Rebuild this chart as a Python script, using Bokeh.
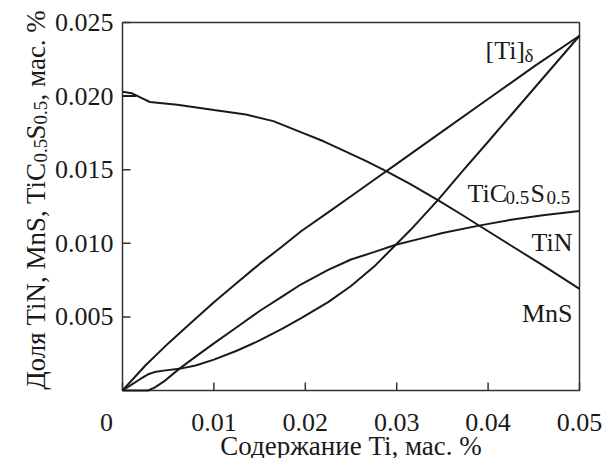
import math
from bokeh.plotting import figure
from bokeh.models import Range1d, Label
from bokeh.embed import file_html
from bokeh.resources import INLINE

# ---- data ----
ti_x = [0, 0.0025, 0.005, 0.0075, 0.01, 0.0125, 0.015, 0.0175, 0.0195, 0.0225,
        0.025, 0.0275, 0.03, 0.035, 0.04, 0.045, 0.05]
ti_y = [0, 0.0017, 0.0032, 0.0046, 0.0060, 0.0073, 0.0086, 0.0098, 0.0108, 0.0121,
        0.0132, 0.0143, 0.0154, 0.0176, 0.0198, 0.0220, 0.0241]

mns_x = [0, 0.001, 0.002, 0.003, 0.006, 0.01, 0.0135, 0.0165, 0.0195, 0.022,
         0.0242, 0.0265, 0.0289, 0.0315, 0.0346, 0.037, 0.039, 0.0425, 0.046, 0.05]
mns_y = [0.0203, 0.0202, 0.0199, 0.0196, 0.01942, 0.01906, 0.01875, 0.0183, 0.01755, 0.01693,
         0.0163, 0.01563, 0.01488, 0.01402, 0.0129, 0.01199, 0.01121, 0.00985, 0.0085, 0.0069]
mns2_x = [0, 0.0015]
mns2_y = [0.0200, 0.0200]

tin_x = [0, 0.0028, 0.0035, 0.0045, 0.0062, 0.008, 0.01, 0.0125, 0.015, 0.0175, 0.0195,
         0.0225, 0.025, 0.0275, 0.0299, 0.0325, 0.035, 0.039, 0.0425, 0.046, 0.05]
tin_y = [0, 0, 0.0002, 0.0006, 0.00147, 0.0023, 0.0032, 0.0043, 0.0054, 0.0064, 0.0072,
         0.0082, 0.0089, 0.0094, 0.0099, 0.0103, 0.0107, 0.0112, 0.0116, 0.0119, 0.0122]

tic_x = [0, 0.001, 0.002, 0.0028, 0.0035, 0.0045, 0.0062, 0.008, 0.01, 0.0125, 0.015,
         0.0175, 0.0195, 0.0225, 0.025, 0.0275, 0.0299, 0.0315, 0.0346, 0.0372, 0.04,
         0.0425, 0.045, 0.0475, 0.05]
tic_y = [0, 0.0004, 0.0008, 0.0011, 0.00125, 0.00135, 0.00147, 0.0017, 0.0021, 0.0027, 0.0034,
         0.0042, 0.0049, 0.0060, 0.0071, 0.0084, 0.0099, 0.0109, 0.0130, 0.0149, 0.0169,
         0.0187, 0.0205, 0.0223, 0.0241]

x_ticks = [0, 0.01, 0.02, 0.03, 0.04, 0.05]
x_tick_labels = ["0", "0.01", "0.02", "0.03", "0.04", "0.05"]
y_ticks = [0.005, 0.010, 0.015, 0.020, 0.025]
y_tick_labels = ["0.005", "0.010", "0.015", "0.020", "0.025"]
x_title = "Содержание Ti, мас. %"

# ---- layout constants ----
W, H = 603, 458           # canvas
L, T, FW, FH = 122, 22, 457, 368   # plotting box inside the canvas
XMIN, XMAX = x_ticks[0], x_ticks[-1]
YMIN, YMAX = 0.0, y_ticks[-1]
kx = (XMAX - XMIN) / FW
ky = (YMAX - YMIN) / FH

FONT = "Liberation Serif"
INK = "#1a1a1a"
FRAME = "#333333"

p = figure(frame_width=W, frame_height=H, min_border=0, title=None,
           x_axis_location=None, y_axis_location=None,
           x_range=Range1d(XMIN - L * kx, XMAX + (W - L - FW) * kx),
           y_range=Range1d(YMIN - (H - T - FH) * ky, YMAX + T * ky),
           output_backend="svg", toolbar_location=None)
p.xgrid.visible = False
p.ygrid.visible = False
p.outline_line_color = None
p.background_fill_color = "white"
p.border_fill_color = "white"

# plot box and inward ticks
p.quad(left=[XMIN], right=[XMAX], bottom=[YMIN], top=[YMAX],
       fill_color=None, line_color=FRAME, line_width=1.5)
p.ray(x=x_ticks, y=[YMIN] * len(x_ticks), length=8, length_units="screen",
      angle=math.pi / 2, line_color=FRAME, line_width=1.5)
p.ray(x=[XMIN] * len(y_ticks), y=y_ticks, length=8, length_units="screen",
      angle=0, line_color=FRAME, line_width=1.5)

for xs, ys in ((ti_x, ti_y), (mns_x, mns_y), (mns2_x, mns2_y), (tin_x, tin_y), (tic_x, tic_y)):
    p.line(xs, ys, line_color=INK, line_width=2)


def lab(text, xo, yo, size=26, align="left", x=XMIN, y=YMIN, angle=0.0,
        baseline="alphabetic"):
    p.add_layout(Label(x=x, y=y, x_units="data", y_units="data", x_offset=xo, y_offset=yo,
                       text=text, text_font=FONT, text_font_size=f"{size}px",
                       text_font_style="normal",
                       text_align=align, text_baseline=baseline, angle=angle,
                       text_color=INK))


# in-plot labels
lab("[Ti]", 363, 340)
lab("δ", 402, 335, size=19)
lab("TiC", 345, 197)
lab("0.5", 383, 193, size=19)
lab("S", 408, 197)
lab("0.5", 424, 193, size=19)
lab("TiN", 450, 148, align="right")
lab("MnS", 450, 77, align="right")

# rotated y title: Доля TiN, MnS, TiC0.5S0.5, мас. %
A = math.pi / 2
lab("Доля TiN, MnS, TiC", -87, 228, size=27, align="right", angle=A)
lab("0.5", -82, 228, size=19, angle=A)
lab("S", -87, 251, size=27, angle=A)
lab("0.5", -82, 266, size=19, angle=A)
lab(", мас. %", -87, 290, size=27, angle=A)

# tick labels
for t, s in zip(x_ticks, x_tick_labels):
    lab(s, -16 if t == XMIN else 0, 0, align="center", x=t, y=YMIN - 32 * ky)
for t, s in zip(y_ticks, y_tick_labels):
    lab(s, 0, 0, align="right", x=XMIN - 9 * kx, y=t, baseline="middle")

# x title
lab(x_title, 0, 0, size=27, align="center", x=(XMIN + XMAX) / 2, y=YMIN - 55 * ky)

open("out.html", "w").write(file_html(p, INLINE))
